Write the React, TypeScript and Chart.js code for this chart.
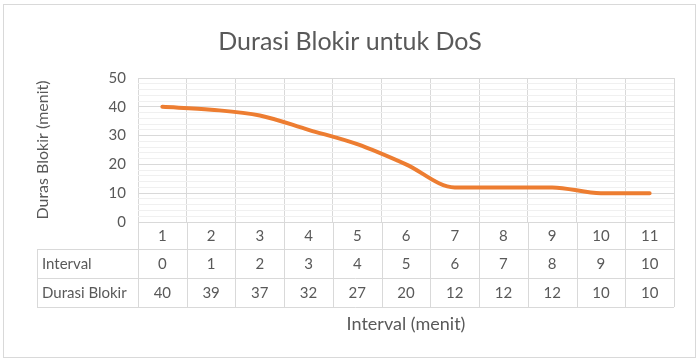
import React, { useEffect, useRef } from "react";
import { Chart, registerables } from "chart.js";

Chart.register(...registerables);

const categories = ["1", "2", "3", "4", "5", "6", "7", "8", "9", "10", "11"];
const intervalRow = ["0", "1", "2", "3", "4", "5", "6", "7", "8", "9", "10"];
const durasiBlokir = [40, 39, 37, 32, 27, 20, 12, 12, 12, 10, 10];
const titleText = "Durasi Blokir untuk DoS";
const yTitle = "Duras Blokir (menit)";
const xTitle = "Interval (menit)";
const rowLabels = ["Interval", "Durasi Blokir"];

const FONT = "Lato, 'Open Sans', sans-serif";
const TEXT = "#595959";
const GRID = "#D9D9D9";

const decorPlugin = {
  id: "decor",
  beforeDraw(chart: any) {
    const ctx = chart.ctx;
    ctx.save();
    ctx.fillStyle = "#ffffff";
    ctx.fillRect(0, 0, chart.width, chart.height);
    ctx.strokeStyle = GRID;
    ctx.lineWidth = 1;
    ctx.strokeRect(3.5, 4.5, 692, 353);
    ctx.restore();
  },
  afterDraw(chart: any) {
    const ctx = chart.ctx;
    const area = chart.chartArea;
    const xs = chart.scales.x;
    const n = categories.length;
    const colW = (area.right - area.left) / n;
    const rowH = [27, 29, 29];
    const y0 = area.bottom;
    const y1 = y0 + rowH[0];
    const y2 = y1 + rowH[1];
    const y3 = y2 + rowH[2];
    const tableLeft = 37;
    ctx.save();
    ctx.strokeStyle = GRID;
    ctx.lineWidth = 1;
    const hl = (x1: number, x2: number, y: number) => {
      ctx.beginPath();
      ctx.moveTo(x1, Math.round(y) + 0.5);
      ctx.lineTo(x2, Math.round(y) + 0.5);
      ctx.stroke();
    };
    const vl = (x: number, ya: number, yb: number) => {
      ctx.beginPath();
      ctx.moveTo(Math.round(x) + 0.5, ya);
      ctx.lineTo(Math.round(x) + 0.5, yb);
      ctx.stroke();
    };
    hl(area.left, area.right, y0);
    hl(tableLeft, area.right, y1);
    hl(tableLeft, area.right, y2);
    hl(tableLeft, area.right, y3);
    vl(tableLeft, y1, y3);
    for (let i = 0; i <= n; i++) {
      vl(area.left + i * colW, y0, y3);
    }
    ctx.fillStyle = TEXT;
    ctx.font = `15px ${FONT}`;
    ctx.textBaseline = "middle";
    ctx.textAlign = "center";
    for (let i = 0; i < n; i++) {
      const cx = xs.getPixelForValue(i);
      ctx.fillText(categories[i], cx, (y0 + y1) / 2 + 1);
      ctx.fillText(intervalRow[i], cx, (y1 + y2) / 2 + 1);
      ctx.fillText(String(durasiBlokir[i]), cx, (y2 + y3) / 2 + 1);
    }
    ctx.textAlign = "left";
    ctx.fillText(rowLabels[0], tableLeft + 5, (y1 + y2) / 2 + 1);
    ctx.fillText(rowLabels[1], tableLeft + 5, (y2 + y3) / 2 + 1);

    ctx.textAlign = "center";
    ctx.font = `18px ${FONT}`;
    ctx.fillText(xTitle, (area.left + area.right) / 2, 324);

    ctx.save();
    ctx.font = `16px ${FONT}`;
    ctx.translate(43, (area.top + area.bottom) / 2);
    ctx.rotate(-Math.PI / 2);
    ctx.fillText(yTitle, 0, 0);
    ctx.restore();

    ctx.font = `25px ${FONT}`;
    ctx.fillText(titleText, 350, 42);
    ctx.restore();
  },
};

export default function App() {
  const ref = useRef<HTMLCanvasElement | null>(null);
  useEffect(() => {
    document.body.style.margin = "0";
    const canvas = ref.current;
    if (!canvas) return;
    const chart = new Chart(canvas, {
      type: "line",
      data: {
        labels: categories,
        datasets: [
          {
            label: "Durasi Blokir",
            data: durasiBlokir,
            borderColor: "#ED7D31",
            backgroundColor: "#ED7D31",
            borderWidth: 4,
            pointRadius: 0,
            cubicInterpolationMode: "monotone",
            borderCapStyle: "round",
            borderJoinStyle: "round",
          },
        ],
      },
      options: {
        animation: false,
        responsive: false,
        devicePixelRatio: 1,
        layout: { padding: { left: 0, right: 26, top: 78, bottom: 140 } },
        plugins: {
          legend: { display: false },
          title: { display: false },
          tooltip: { enabled: false },
        },
        scales: {
          x: {
            type: "category",
            offset: true,
            grid: {
              offset: true,
              color: GRID,
              drawTicks: false,
            },
            border: { display: false },
            ticks: { display: false },
            afterFit(scale: any) {
              scale.height = 0;
            },
          },
          y: {
            min: 0,
            max: 50,
            border: { display: false },
            grid: {
              drawTicks: false,
              color: (c: any) =>
                c.tick && c.tick.value % 10 === 0 ? GRID : "#F0F0F0",
            },
            ticks: {
              stepSize: 2,
              autoSkip: false,
              padding: 12,
              color: TEXT,
              font: { family: FONT, size: 15 },
              callback: (v: any) => (Number(v) % 10 === 0 ? String(v) : ""),
            },
            afterFit(scale: any) {
              scale.width = 138;
            },
          },
        },
      },
      plugins: [decorPlugin],
    });
    return () => chart.destroy();
  }, []);
  return <canvas ref={ref} width={700} height={362} style={{ display: "block" }} />;
}
